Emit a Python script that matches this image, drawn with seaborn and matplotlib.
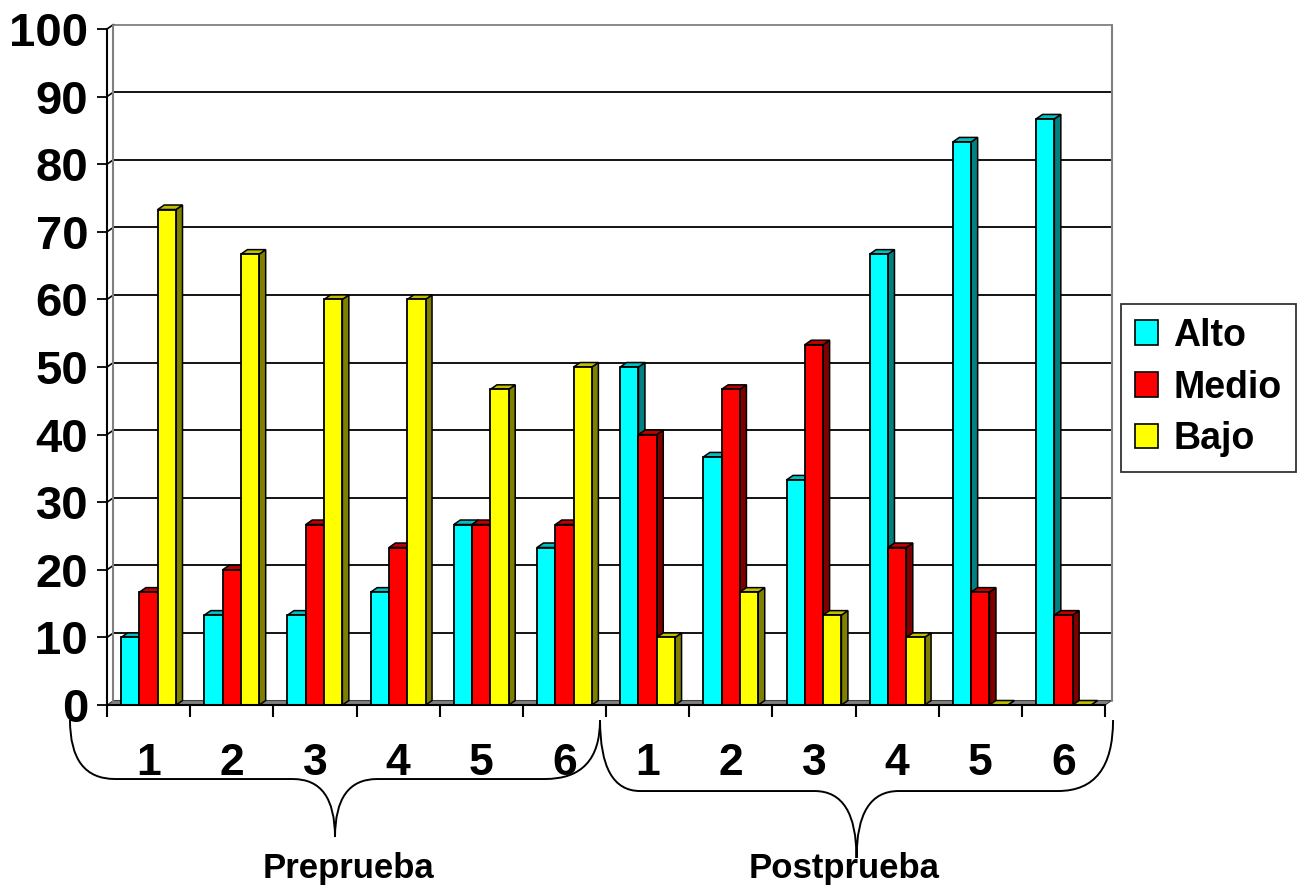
import numpy as np
import pandas as pd
import matplotlib
matplotlib.use("Agg")
import matplotlib.pyplot as plt
import seaborn as sns
from matplotlib.patches import Polygon, Patch, PathPatch
from matplotlib.path import Path

# Datos
grupos = ["Preprueba", "Postprueba"]
numeros = ["1", "2", "3", "4", "5", "6"]
niveles = ["Alto", "Medio", "Bajo"]
alto = [10, 13.3, 13.3, 16.7, 26.7, 23.3, 50, 36.7, 33.3, 66.7, 83.3, 86.7]
medio = [16.7, 20, 26.7, 23.3, 26.7, 26.7, 40, 46.7, 53.3, 23.3, 16.7, 13.3]
bajo = [73.3, 66.7, 60, 60, 46.7, 50, 10, 16.7, 13.3, 10, 0, 0]

colores = {"Alto": "#00FFFF", "Medio": "#FF0000", "Bajo": "#FFFF00"}
lados = {"Alto": "#008080", "Medio": "#800000", "Bajo": "#808000"}
techos = {"Alto": "#00C0C0", "Medio": "#C00000", "Bajo": "#C0C000"}

categorias = [f"{g} {n}" for g in grupos for n in numeros]
df = pd.DataFrame({
    "cat": categorias * 3,
    "nivel": ["Alto"] * 12 + ["Medio"] * 12 + ["Bajo"] * 12,
    "valor": alto + medio + bajo,
})

sns.set_style("white")
plt.rcParams["font.family"] = ["Liberation Sans", "DejaVu Sans"]
plt.rcParams["font.weight"] = "bold"
plt.rcParams["text.color"] = "black"
plt.rcParams["xtick.color"] = "black"
plt.rcParams["ytick.color"] = "black"
plt.rcParams["axes.labelcolor"] = "black"

fig = plt.figure(figsize=(13.03, 8.93), dpi=100)
ax = fig.add_axes([0.0821, 0.2105, 0.766, 0.757])

sns.barplot(data=df, x="cat", y="valor", hue="nivel", order=categorias,
            hue_order=niveles, palette=colores, saturation=1, width=0.66,
            edgecolor="black", linewidth=1.3, legend=False, ax=ax)

n = len(categorias)
ax.set_xlim(-0.5, n - 0.5)
ax.set_ylim(0, 100)

# profundidad en unidades de datos (aprox 6 px a la derecha, 4 px arriba)
ancho_px = fig.get_figwidth() * fig.dpi * 0.766
alto_px = fig.get_figheight() * fig.dpi * 0.757
dx = 6.5 * n / ancho_px
dy = 4.5 * 100 / alto_px

# pared de fondo, piso y cuadrícula
x0, x1 = -0.5, n - 0.5
ax.add_patch(Polygon([(x0, 0), (x1, 0), (x1 + dx, dy), (x0 + dx, dy)],
                     closed=True, facecolor="#808080", edgecolor="#404040",
                     lw=0.8, zorder=1, clip_on=False))
for y in range(10, 101, 10):
    ax.plot([x0 + dx, x1 + dx], [y + dy, y + dy],
            color="#808080" if y == 100 else "black", lw=1.3, zorder=1, clip_on=False)
    ax.plot([x0, x0 + dx], [y, y + dy], color="black", lw=1.2, zorder=1, clip_on=False)
ax.plot([x0 + dx, x0 + dx], [dy, 100 + dy], color="#808080", lw=1.5, zorder=1, clip_on=False)
ax.plot([x1 + dx, x1 + dx], [dy, 100 + dy], color="#808080", lw=1.5, zorder=1, clip_on=False)

# caras laterales y superiores de las barras (efecto 3D)
barras = [p for p in ax.patches if isinstance(p, matplotlib.patches.Rectangle)
          and 0 < p.get_width() < 1]
barras.sort(key=lambda b: b.get_x())
for i, b in enumerate(barras):
    bx0 = b.get_x()
    bx1 = bx0 + b.get_width()
    h = b.get_height()
    fc = matplotlib.colors.to_hex(b.get_facecolor())
    nivel = [k for k, v in colores.items() if v.lower() == fc.lower()][0]
    z = 3 + i * 0.01
    b.set_zorder(z + 0.005)
    ax.add_patch(Polygon([(bx1, 0), (bx1 + dx, dy), (bx1 + dx, h + dy), (bx1, h)],
                         closed=True, facecolor=lados[nivel], edgecolor="black",
                         lw=1.1, zorder=z, clip_on=False))
    ax.add_patch(Polygon([(bx0, h), (bx1, h), (bx1 + dx, h + dy), (bx0 + dx, h + dy)],
                         closed=True, facecolor=techos[nivel], edgecolor="black",
                         lw=1.1, zorder=z, clip_on=False))

# ejes
for s in ["top", "right"]:
    ax.spines[s].set_visible(False)
for s in ["left", "bottom"]:
    ax.spines[s].set_color("black")
    ax.spines[s].set_linewidth(1.5)
    ax.spines[s].set_zorder(10)

ax.set_yticks(range(0, 101, 10))
ax.tick_params(axis="y", direction="out", length=7.5, width=1.3, pad=6,
               labelsize=34, left=True, colors="black")
ax.set_xticks(range(n))
ax.set_xticklabels(numeros * 2)
ax.set_xticks(np.arange(-0.5, n, 1.0), minor=True)
ax.tick_params(axis="x", which="major", length=0, pad=27, labelsize=32, colors="black")
ax.tick_params(axis="x", which="minor", direction="out", length=8.5, width=1.5,
               bottom=True, color="black")
for t in ax.get_yticklabels() + ax.get_xticklabels():
    t.set_fontweight("bold")
ax.set_xlabel("")
ax.set_ylabel("")
ax.grid(False)

# llaves bajo los grupos
px_x = ancho_px / n
px_y = alto_px / 100


def llave(xl, xr, y_top, y_mid, y_tip, r_l, r_c, r_r):
    xc = (xl + xr) / 2
    verts = [(xl, y_top), (xl, y_mid), (xl + r_l, y_mid),
             (xc - r_c, y_mid), (xc, y_mid), (xc, y_tip),
             (xc, y_mid), (xc + r_c, y_mid),
             (xr - r_r, y_mid), (xr, y_mid), (xr, y_top)]
    codes = [Path.MOVETO, Path.CURVE3, Path.CURVE3,
             Path.LINETO, Path.CURVE3, Path.CURVE3,
             Path.CURVE3, Path.CURVE3,
             Path.LINETO, Path.CURVE3, Path.CURVE3]
    ax.add_patch(PathPatch(Path(verts, codes), facecolor="none", edgecolor="black",
                           lw=1.4, clip_on=False))


llave(-0.5 - 37 / px_x, -0.5 + 6 - 6 / px_x, -15 / px_y, -74 / px_y, -132 / px_y,
      45 / px_x, 42 / px_x, 55 / px_x)
llave(-0.5 + 6 - 6 / px_x, -0.5 + 12 + 8 / px_x, -15 / px_y, -86 / px_y, -153 / px_y,
      40 / px_x, 42 / px_x, 55 / px_x)

ax.text(2.4, -163 / px_y, grupos[0], ha="center", va="center", fontsize=25,
        fontweight="bold", color="black")
ax.text(8.36, -163 / px_y, grupos[1], ha="center", va="center", fontsize=25,
        fontweight="bold", color="black")

manijas = [Patch(facecolor=colores[k], edgecolor="black", lw=1.2, label=k) for k in niveles]
leg = fig.legend(handles=manijas, loc="center left", bbox_to_anchor=(0.860, 0.566),
                 frameon=True, fancybox=False, handlelength=0.62,
                 handleheight=0.62, handletextpad=0.4, labelspacing=0.42,
                 borderpad=0.38, borderaxespad=0,
                 prop={"weight": "bold", "size": 27})
leg.get_frame().set_edgecolor("black")
leg.get_frame().set_linewidth(1.3)
for t in leg.get_texts():
    t.set_color("black")

fig.savefig("out.png", dpi=100)
